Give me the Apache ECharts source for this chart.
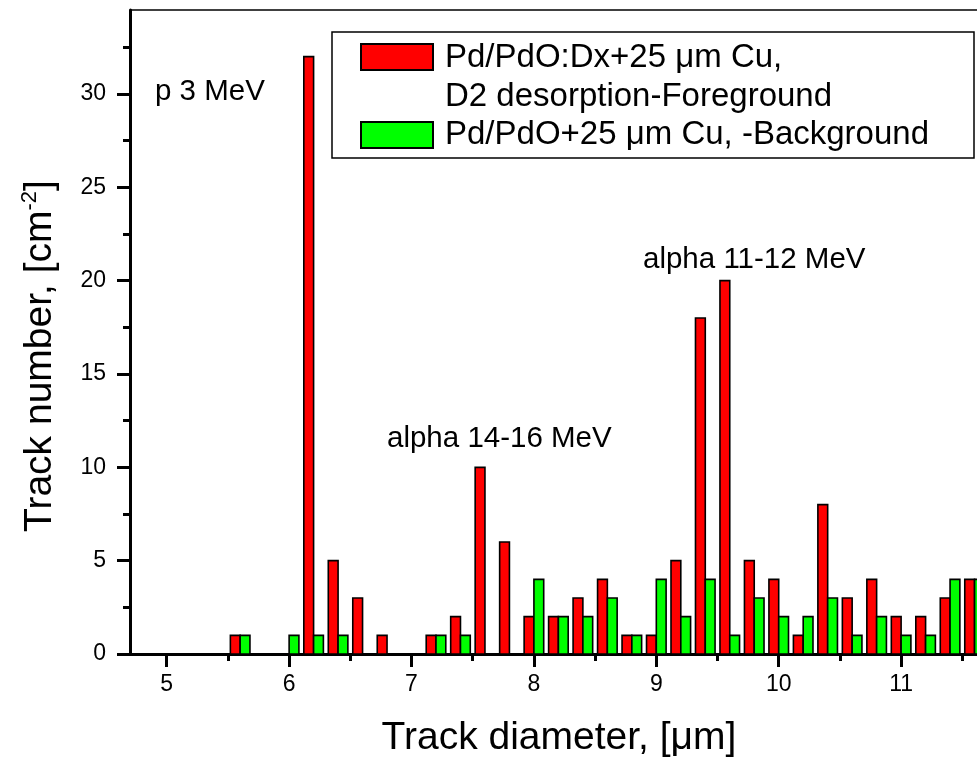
<!DOCTYPE html>
<html>
<head>
<meta charset="utf-8">
<script src="https://cdn.jsdelivr.net/npm/echarts@6/dist/echarts.min.js"></script>
<style>
html,body{margin:0;padding:0;background:#fff;}
#chart{width:977px;height:761px;}
</style>
</head>
<body>
<div id="chart"></div>
<script>
// ---- data ----
const bins = [5.6, 5.8, 6.0, 6.2, 6.4, 6.6, 6.8, 7.0, 7.2, 7.4, 7.6, 7.8, 8.0, 8.2, 8.4, 8.6, 8.8, 9.0, 9.2, 9.4, 9.6, 9.8, 10.0, 10.2, 10.4, 10.6, 10.8, 11.0, 11.2, 11.4, 11.6];
const foreground = [1, 0, 0, 32, 5, 3, 1, 0, 1, 2, 10, 6, 2, 2, 3, 4, 1, 1, 5, 18, 20, 5, 4, 1, 8, 3, 4, 2, 2, 3, 4];
const background = [1, 0, 1, 1, 1, 0, 0, 0, 1, 1, 0, 0, 4, 2, 2, 3, 1, 4, 2, 4, 1, 3, 2, 2, 3, 1, 2, 1, 1, 4, 4];
const xMajorTicks = [5, 6, 7, 8, 9, 10, 11];
const xMinorTicks = [5.5, 6.5, 7.5, 8.5, 9.5, 10.5, 11.5];
const yMajorTicks = [0, 5, 10, 15, 20, 25, 30];
const yMinorTicks = [2.5, 7.5, 12.5, 17.5, 22.5, 27.5, 32.5];
const seriesNames = ['Pd/PdO:Dx+25 \u03bcm Cu,\nD2 desorption-Foreground', 'Pd/PdO+25 \u03bcm Cu, -Background'];
const annotations = ['p 3 MeV', 'alpha 14-16 MeV', 'alpha 11-12 MeV'];

const FONT = '"Liberation Sans", Arial, Helvetica, sans-serif';
const X_MIN = 4.7, X_MAX = 11.62, Y_MIN = 0, Y_MAX = 34.5;
const HALF = 0.08;
const GRID = { left: 130, right: 0, top: 10, bottom: 107 };

function barRenderer(color, side) {
  return function (params, api) {
    const c = api.value(0), v = api.value(1);
    if (!v) return null;
    const x0 = side < 0 ? c - HALF : c;
    const x1 = side < 0 ? c : c + HALF;
    const p0 = api.coord([x0, v]);
    const p1 = api.coord([x1, 0]);
    return {
      type: 'rect',
      shape: { x: p0[0], y: p0[1], width: p1[0] - p0[0], height: p1[1] - p0[1] },
      style: { fill: color, stroke: '#000', lineWidth: 1.6 }
    };
  };
}

const chart = echarts.init(document.getElementById('chart'), null, { renderer: 'canvas' });

chart.setOption({
  animation: false,
  backgroundColor: '#fff',
  grid: GRID,
  xAxis: [
    { type: 'value', min: X_MIN, max: X_MAX, position: 'bottom', splitLine: { show: false },
      axisLine: { show: true, onZero: false, lineStyle: { color: '#000', width: 3 } },
      axisTick: { show: true, inside: false, length: 13, lineStyle: { color: '#000', width: 3 }, customValues: xMajorTicks },
      axisLabel: { show: true, margin: 19, color: '#000', fontSize: 23, fontFamily: FONT, customValues: xMajorTicks } },
    { type: 'value', min: X_MIN, max: X_MAX, position: 'bottom', splitLine: { show: false },
      axisLine: { show: false },
      axisTick: { show: true, inside: false, length: 7, lineStyle: { color: '#000', width: 3 }, customValues: xMinorTicks },
      axisLabel: { show: false } }
  ],
  yAxis: [
    { type: 'value', min: Y_MIN, max: Y_MAX, position: 'left', splitLine: { show: false },
      axisLine: { show: true, onZero: false, lineStyle: { color: '#000', width: 3 } },
      axisTick: { show: true, inside: false, length: 13, lineStyle: { color: '#000', width: 3 }, customValues: yMajorTicks },
      axisLabel: { show: true, margin: 24, color: '#000', fontSize: 23, fontFamily: FONT, customValues: yMajorTicks } },
    { type: 'value', min: Y_MIN, max: Y_MAX, position: 'left', splitLine: { show: false },
      axisLine: { show: false },
      axisTick: { show: true, inside: false, length: 7, lineStyle: { color: '#000', width: 3 }, customValues: yMinorTicks },
      axisLabel: { show: false } }
  ],
  series: [
    { name: seriesNames[0], type: 'custom', xAxisIndex: 0, yAxisIndex: 0, clip: true,
      renderItem: barRenderer('#ff0000', -1), data: bins.map((b, i) => [b, foreground[i]]) },
    { name: seriesNames[1], type: 'custom', xAxisIndex: 0, yAxisIndex: 0, clip: true,
      renderItem: barRenderer('#00ff00', 1), data: bins.map((b, i) => [b, background[i]]) }
  ],
  graphic: [
    // top frame line of the plot box
    { type: 'line', shape: { x1: GRID.left, y1: GRID.top, x2: 977, y2: GRID.top }, style: { stroke: '#000', lineWidth: 1.5 } },
    // axis titles
    { type: 'text', x: 559, y: 738,
      style: { text: 'Track diameter, [\u03bcm]', font: '39px ' + FONT, fill: '#000', align: 'center', verticalAlign: 'middle' } },
    { type: 'text', x: 40, y: 356, rotation: Math.PI / 2,
      style: { text: 'Track number, [cm{sup|-2}]', font: '39px ' + FONT, fill: '#000', align: 'center', verticalAlign: 'middle',
        rich: { sup: { fontSize: 22, fontFamily: FONT, fill: '#000', padding: [0, 0, 21, 0] } } } },
    // annotations
    { type: 'text', x: 155, y: 92, style: { text: annotations[0], font: '29.5px ' + FONT, fill: '#000', align: 'left', verticalAlign: 'middle' } },
    { type: 'text', x: 387, y: 439, style: { text: annotations[1], font: '29.5px ' + FONT, fill: '#000', align: 'left', verticalAlign: 'middle' } },
    { type: 'text', x: 643, y: 260, style: { text: annotations[2], font: '29.5px ' + FONT, fill: '#000', align: 'left', verticalAlign: 'middle' } },
    // legend
    { type: 'rect', shape: { x: 332, y: 32, width: 642, height: 126 }, style: { fill: '#fff', stroke: '#000', lineWidth: 1.5 }, z: 50 },
    { type: 'rect', shape: { x: 361, y: 44, width: 72, height: 26 }, style: { fill: '#ff0000', stroke: '#000', lineWidth: 2 }, z: 51 },
    { type: 'rect', shape: { x: 361, y: 122, width: 72, height: 26 }, style: { fill: '#00ff00', stroke: '#000', lineWidth: 2 }, z: 51 },
    { type: 'text', x: 445, y: 58, z: 51, style: { text: seriesNames[0].split('\n')[0], font: '33px ' + FONT, fill: '#000', align: 'left', verticalAlign: 'middle' } },
    { type: 'text', x: 445, y: 97, z: 51, style: { text: seriesNames[0].split('\n')[1], font: '33px ' + FONT, fill: '#000', align: 'left', verticalAlign: 'middle' } },
    { type: 'text', x: 445, y: 135, z: 51, style: { text: seriesNames[1], font: '33px ' + FONT, fill: '#000', align: 'left', verticalAlign: 'middle' } }
  ]
});
</script>
</body>
</html>
